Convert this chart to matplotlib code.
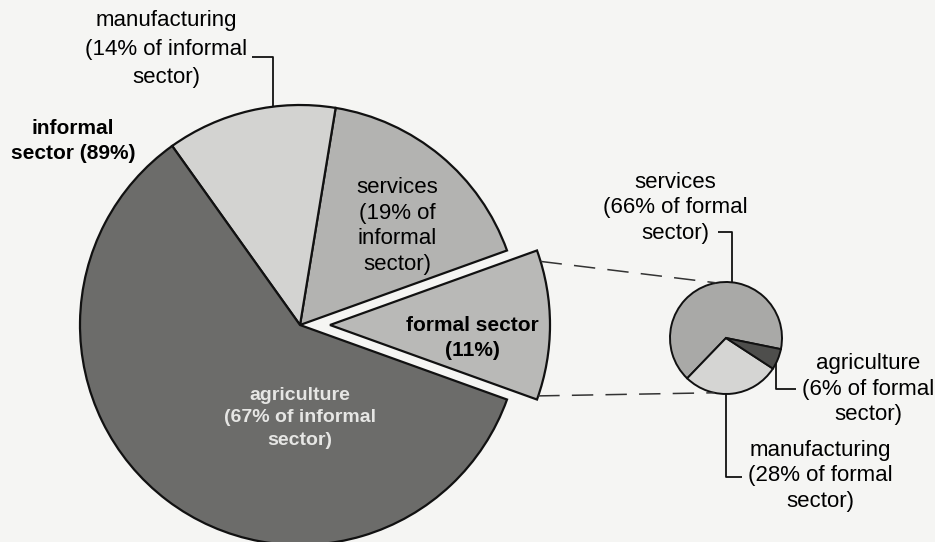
import numpy as np
import matplotlib.pyplot as plt

plt.rcParams['font.family'] = ['Liberation Sans', 'DejaVu Sans']

# Share of the whole economy (%)
sector_names = ['formal sector', 'informal sector']
sector_share = [11, 89]

# Split of the informal sector (% of informal), counter-clockwise after formal
informal_parts = ['services', 'manufacturing', 'agriculture']
informal_share = [19, 14, 67]

# Split of the formal sector (% of formal)
formal_parts = ['services', 'manufacturing', 'agriculture']
formal_share = [66, 28, 6]

W, H = 935, 542
fig = plt.figure(figsize=(W / 100, H / 100), dpi=100)
fig.patch.set_facecolor('#f5f5f3')
ax = fig.add_axes([0, 0, 1, 1])

# main pie: formal wedge + informal parts scaled to the whole
main_vals = [sector_share[0]] + [sector_share[1] * s / 100 for s in informal_share]
main_cols = ['#b9b9b7', '#b3b3b1', '#d3d3d1', '#6c6c6a']
big_c, big_r = (300, 217), 220
explode_px = 30   # pie() takes explode in data units here
start_main = -sector_share[0] * 3.6 / 2
wedges, _ = ax.pie(main_vals, colors=main_cols, startangle=start_main,
                   center=big_c, radius=big_r,
                   explode=[explode_px, 0, 0, 0],
                   wedgeprops=dict(edgecolor='#111111', linewidth=1.6))

# small pie for formal sector
small_c, small_r = (726, 204), 56
small_cols = ['#a9a9a7', '#d5d5d3', '#4e4e4c']
ax.pie(formal_share, colors=small_cols, startangle=-11.5,
       center=small_c, radius=small_r,
       wedgeprops=dict(edgecolor='#111111', linewidth=1.4))


def on_circle(c, r, ang):
    a = np.deg2rad(ang)
    return c[0] + r * np.cos(a), c[1] + r * np.sin(a)


# dashed connectors from the exploded wedge to the small pie
fw = wedges[0]
fx, fy = fw.center
p1 = on_circle((fx, fy), big_r, fw.theta2 - 3)
p2 = on_circle((fx, fy), big_r, fw.theta1 + 1)
q1 = on_circle(small_c, small_r, 100)
q2 = on_circle(small_c, small_r, 258)
for p, q in [(p1, q1), (p2, q2)]:
    ax.plot([p[0], q[0]], [p[1], q[1]], color='#333333', lw=1.1,
            dashes=(14, 8))

lk = dict(color='#111111', lw=1.3, solid_capstyle='butt')

# leader: main manufacturing
a = on_circle(big_c, big_r, 97)
ax.plot([a[0], a[0], a[0] - 21], [a[1], 485, 485], **lk)
# leader: small services
a = on_circle(small_c, small_r, 84)
ax.plot([a[0], a[0], a[0] - 14], [a[1], 310, 310], **lk)
# leader: small agriculture
a = on_circle(small_c, small_r, 334)
ax.plot([a[0], a[0], a[0] + 20], [a[1], 153, 153], **lk)
# leader: small manufacturing
a = on_circle(small_c, small_r, 270)
ax.plot([a[0], a[0], a[0] + 16], [a[1], 65, 65], **lk)

fs = 16
fsb = 15
ax.text(166, 493, 'manufacturing\n(14% of informal\nsector)', ha='center',
        va='center', fontsize=fs, linespacing=1.46)
ax.text(73, 401, 'informal\nsector (89%)', ha='center', va='center',
        fontsize=fsb, fontweight='bold', linespacing=1.45)
ax.text(397, 316, 'services\n(19% of\ninformal\nsector)', ha='center',
        va='center', fontsize=fs, linespacing=1.31)
ax.text(472, 204, 'formal sector\n(11%)', ha='center', va='center',
        fontsize=fsb, fontweight='bold', linespacing=1.45)
ax.text(300, 124, 'agriculture\n(67% of informal\nsector)', ha='center',
        va='center', fontsize=14, fontweight='bold', color='#e6e6e4',
        linespacing=1.45)
ax.text(675, 334, 'services\n(66% of formal\nsector)', ha='center',
        va='center', fontsize=fs, linespacing=1.28)
ax.text(868, 153, 'agriculture\n(6% of formal\nsector)', ha='center',
        va='center', fontsize=fs, linespacing=1.26)
ax.text(820, 66, 'manufacturing\n(28% of formal\nsector)', ha='center',
        va='center', fontsize=fs, linespacing=1.26)

ax.set_xlim(0, W)
ax.set_ylim(0, H)
ax.set_aspect('equal')
ax.axis('off')

fig.savefig('out.png', dpi=100, facecolor=fig.get_facecolor())
